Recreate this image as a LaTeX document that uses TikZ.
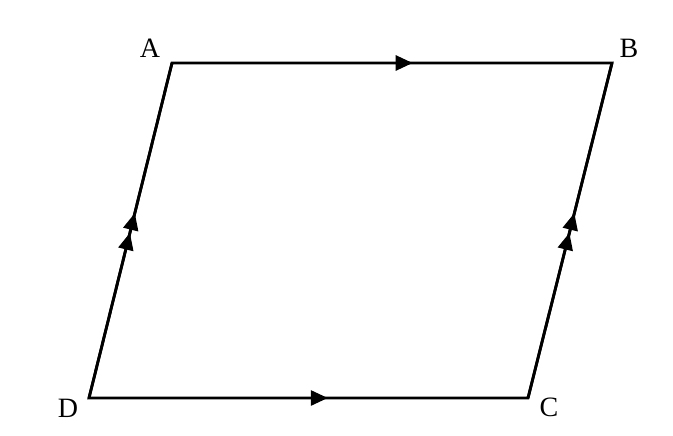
\documentclass[tikz,border=0pt]{standalone}
\usepackage{fontspec}
\setmainfont{Liberation Serif}
\usetikzlibrary{arrows.meta,decorations.markings}
\begin{document}
\begin{tikzpicture}[x=1pt,y=-1pt,
  side/.style={line width=2.8pt,line join=miter},
  lbl/.style={font=\fontsize{28}{28}\selectfont,inner sep=0pt},
  tip/.style={-{Triangle[length=16pt,width=14pt]}}]
\useasboundingbox (0,0) rectangle (673,436);
\coordinate (A) at (172,63);
\coordinate (B) at (612,63);
\coordinate (C) at (528,398);
\coordinate (D) at (89,398);
\node[lbl] (lA) at (150,48) {A};
\node[lbl] (lB) at (629,48) {B};
\node[lbl] (lC) at (549,407) {C};
\node[lbl] (lD) at (68,408) {D};
\draw[side] (A) -- (B) -- (C) -- (D) -- cycle;
\draw[side,postaction={decorate},decoration={markings,
  mark=at position 0.547 with {\arrow{Triangle[length=17pt,width=15pt]}}}] (A) -- (B);
\draw[side,postaction={decorate},decoration={markings,
  mark=at position 0.544 with {\arrow{Triangle[length=17pt,width=15pt]}}}] (D) -- (C);
\draw[side,postaction={decorate},decoration={markings,
  mark=at position 0.493 with {\arrow{Triangle[length=17pt,width=15pt]}},
  mark=at position 0.552 with {\arrow{Triangle[length=17pt,width=15pt]}}}] (D) -- (A);
\draw[side,postaction={decorate},decoration={markings,
  mark=at position 0.493 with {\arrow{Triangle[length=17pt,width=15pt]}},
  mark=at position 0.552 with {\arrow{Triangle[length=17pt,width=15pt]}}}] (C) -- (B);
\end{tikzpicture}
\end{document}
